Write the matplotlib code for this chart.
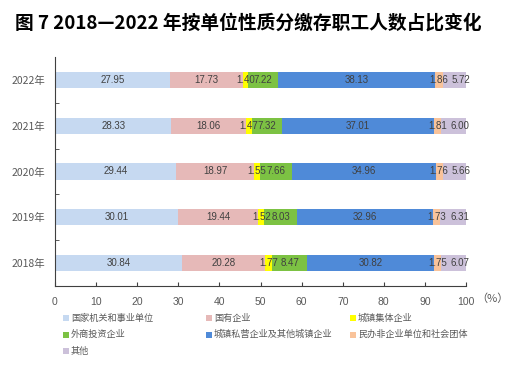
import matplotlib
matplotlib.use("Agg")
import matplotlib.pyplot as plt
import numpy as np
from matplotlib import font_manager
from matplotlib.patches import Rectangle

plt.rcParams["font.family"] = ["Noto Sans CJK SC", "DejaVu Sans"]

years = ["2018年", "2019年", "2020年", "2021年", "2022年"]
categories = [
    "国家机关和事业单位",
    "国有企业",
    "城镇集体企业",
    "外商投资企业",
    "城镇私营企业及其他城镇企业",
    "民办非企业单位和社会团体",
    "其他",
]
colors = ["#c6d9f1", "#e6b9b8", "#ffff00", "#7cc243", "#4f8ad8", "#f9c39a", "#ccc1da"]

# one list per category, ordered 2018..2022
gov = [30.84, 30.01, 29.44, 28.33, 27.95]
soe = [20.28, 19.44, 18.97, 18.06, 17.73]
collective = [1.77, 1.52, 1.55, 1.47, 1.40]
foreign = [8.47, 8.03, 7.66, 7.32, 7.22]
private = [30.82, 32.96, 34.96, 37.01, 38.13]
nonprofit = [1.75, 1.73, 1.76, 1.81, 1.86]
other = [6.07, 6.31, 5.66, 6.00, 5.72]
series = [gov, soe, collective, foreign, private, nonprofit, other]

W, H = 511, 383
fig = plt.figure(figsize=(W / 100, H / 100), dpi=100)
ax = fig.add_axes([55 / W, 1 - 286 / H, 411 / W, 229 / H])

installed = {f.name for f in font_manager.fontManager.ttflist}
if "Liberation Sans Narrow" in installed:
    num_font, num_size = ["Liberation Sans Narrow", "DejaVu Sans"], 8
else:
    num_font, num_size = ["Liberation Sans", "DejaVu Sans"], 7
tick_font = ["Liberation Sans", "DejaVu Sans"]

y = np.arange(len(years))
left = np.zeros(len(years))
for k, (vals, col) in enumerate(zip(series, colors)):
    vals = np.array(vals)
    ax.barh(y, vals, left=left, height=0.35, color=col, edgecolor="none")
    # the last label sits a little right of its segment, as in the source
    shift = 1.6 if k == len(series) - 1 else 0
    for yi, l, v in zip(y, left, vals):
        ax.text(l + v / 2 + shift, yi, f"{v:.2f}", ha="center", va="center",
                fontsize=num_size, color="#404040", family=num_font)
    left += vals

ax.set_xlim(0, 100)
ax.set_ylim(-0.5, len(years) - 0.5)
ax.set_xticks(np.arange(0, 101, 10))
ax.set_xticklabels([str(t) for t in range(0, 101, 10)], fontsize=7.5, color="#595959",
                   family=tick_font)
ax.set_yticks(y)
ax.set_yticklabels(years, fontsize=7.5, color="#595959")
ax.set_yticks(np.arange(0.5, len(years) - 1, 1), minor=True)
ax.tick_params(axis="y", which="major", length=0, pad=7)
ax.tick_params(axis="y", which="minor", length=3, direction="in", color="#404040")
ax.tick_params(axis="x", length=3, direction="in", color="#404040", pad=8)
for s in ["top", "right"]:
    ax.spines[s].set_visible(False)
for s in ["left", "bottom"]:
    ax.spines[s].set_color("#404040")
    ax.spines[s].set_linewidth(0.8)

fig.text(476 / W, 1 - 299 / H, "（%）", ha="left", va="center",
         fontsize=8, color="#595959")

fig.text(15 / W, 1 - 23 / H, "图 7 2018—2022 年按单位性质分缴存职工人数占比变化",
         fontsize=13.5, fontweight="bold", ha="left", va="center")

# legend: three columns, filled row by row
col_x = [63, 206, 350]
for i, (cat, c) in enumerate(zip(categories, colors)):
    row, colno = divmod(i, 3)
    px = col_x[colno]
    py = 318 + row * 16.5
    fig.patches.append(Rectangle((px / W, 1 - (py + 3) / H), 6 / W, 6 / H,
                                 transform=fig.transFigure, facecolor=c,
                                 edgecolor="none"))
    fig.text((px + 8) / W, 1 - py / H, cat, ha="left", va="center",
             fontsize=6.6, color="#595959")

fig.savefig("out.png", dpi=100)
